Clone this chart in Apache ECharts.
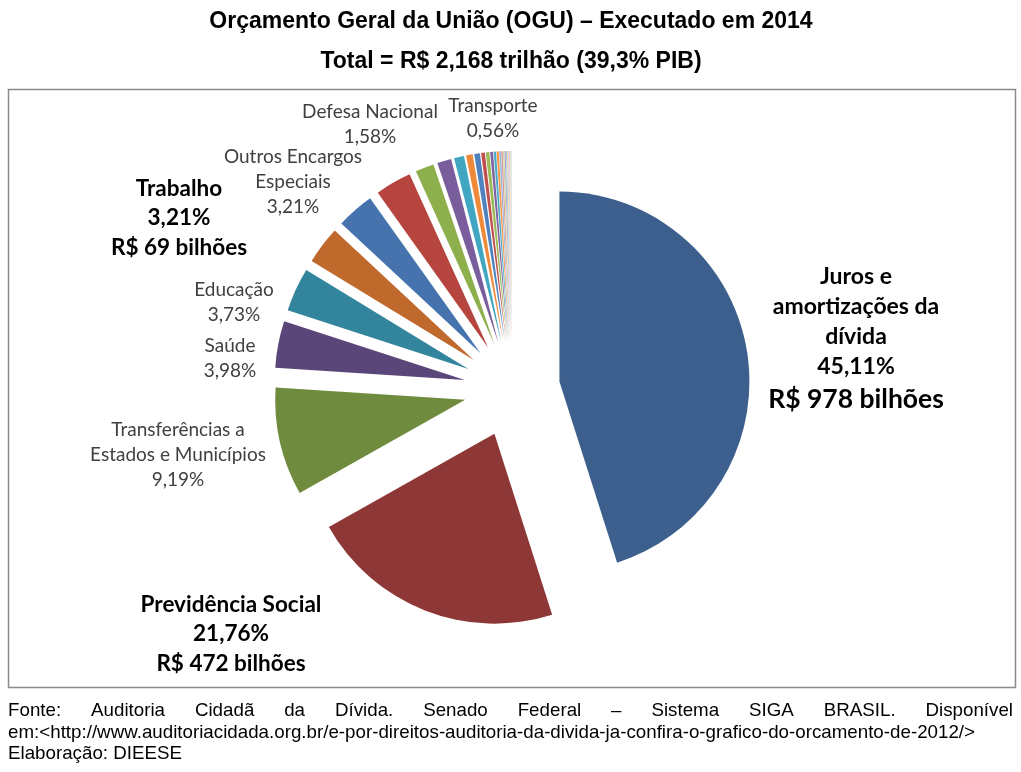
<!DOCTYPE html>
<html>
<head>
<meta charset="utf-8">
<script src="https://cdn.jsdelivr.net/npm/echarts@6/dist/echarts.min.js"></script>
<style>
html,body{margin:0;padding:0;background:#fff;}
#chart{width:1021px;height:772px;}
</style>
</head>
<body>
<div id="chart"></div>
<script>
// ---- data ----
const categories = [
  "Juros e amortizações da dívida",
  "Previdência Social",
  "Transferências a Estados e Municípios",
  "Saúde",
  "Educação",
  "Trabalho",
  "Outros Encargos Especiais",
  "Assistência Social",
  "Defesa Nacional",
  "Judiciária",
  "Administração",
  "Transporte",
  "Agricultura",
  "Segurança Pública",
  "Ciência e Tecnologia",
  "Legislativa",
  "Comércio e Serviços",
  "Essencial à Justiça",
  "Organização Agrária",
  "Gestão Ambiental",
  "Relações Exteriores",
  "Urbanismo",
  "Indústria",
  "Desporto e Lazer",
  "Cultura",
  "Direitos da Cidadania",
  "Saneamento",
  "Comunicações",
  "Energia",
  "Habitação"
];
const values = [45.11, 21.76, 9.19, 3.98, 3.73, 3.21, 3.21, 3.08, 1.58, 1.20, 0.85, 0.56, 0.48, 0.32, 0.30, 0.24, 0.20, 0.18, 0.14, 0.12, 0.10, 0.10, 0.08, 0.07, 0.06, 0.06, 0.05, 0.04, 0.03, 0.02];
const labeledCategories = ["Juros e amortizações da dívida","Previdência Social","Transferências a Estados e Municípios","Saúde","Educação","Trabalho","Outros Encargos Especiais","Defesa Nacional","Transporte"];
const bilhoes = {"Juros e amortizações da dívida": 978, "Previdência Social": 472, "Trabalho": 69};
const titleLines = ["Orçamento Geral da União (OGU) – Executado em 2014", "Total = R$ 2,168 trilhão (39,3% PIB)"];
const footerLines = [
  "Fonte: Auditoria Cidadã da Dívida. Senado Federal – Sistema SIGA BRASIL. Disponível",
  "em:<http://www.auditoriacidada.org.br/e-por-direitos-auditoria-da-divida-ja-confira-o-grafico-do-orcamento-de-2012/>",
  "Elaboração: DIEESE"
];

// ---- style / layout ----
const palette = [
  "#3C5F8D","#8D3836","#6F8B3D","#5B4679","#32859C","#BF692D",
  "#4673AD","#B6443F","#8DAF4C","#7A5D9C","#40A6C1","#EE8A3A",
  "#4F81BD","#C0504D","#9BBB59","#8064A2","#4BACC6","#F79646",
  "#95B3D7","#D99694","#C3D69B","#B3A2C7","#92CDDC","#FAC090",
  "#B9CDE5","#E6B9B8","#D7E4BD","#CCC1DA","#B7DEE8","#FCD5B5"
];
const lineBreaks = {
  "Juros e amortizações da dívida": ["Juros e", "amortizações da", "dívida"],
  "Transferências a Estados e Municípios": ["Transferências a", "Estados e Municípios"],
  "Outros Encargos Especiais": ["Outros Encargos", "Especiais"]
};
const labelPos = {
  "Juros e amortizações da dívida": {x: 856, y: 339, kind: "juros"},
  "Previdência Social": {x: 231, y: 634, kind: "bold"},
  "Trabalho": {x: 179, y: 218, kind: "bold"},
  "Transferências a Estados e Municípios": {x: 178, y: 455, kind: "small"},
  "Saúde": {x: 230, y: 358, kind: "small"},
  "Educação": {x: 234, y: 302, kind: "small"},
  "Outros Encargos Especiais": {x: 293, y: 182, kind: "small"},
  "Defesa Nacional": {x: 370, y: 124, kind: "small"},
  "Transporte": {x: 493, y: 118, kind: "small"}
};
const SEL_OFFSET = 48;

function pct(v) { return v.toFixed(2).replace('.', ',') + '%'; }

const totalValue = values.reduce((a, b) => a + b, 0);
const cumBefore = values.map((v, i) => values.slice(0, i).reduce((a, b) => a + b, 0));

const data = categories.map((c, i) => ({
  name: c,
  value: values[i],
  selected: true,
  itemStyle: {color: palette[i % palette.length]},
  label: {show: labeledCategories.indexOf(c) >= 0}
}));

const chart = echarts.init(document.getElementById('chart'), null, {renderer: 'canvas'});

// footer
const FOOT_FONT = '19px "Liberation Sans", Arial';
const cv = document.createElement('canvas').getContext('2d');
cv.font = FOOT_FONT;
const footScale = 967 / cv.measureText(footerLines[1]).width;
const graphics = [];
graphics.push({
  type: 'rect', shape: {x: 8.5, y: 89.5, width: 1007, height: 598},
  style: {fill: 'none', stroke: '#8a8a8a', lineWidth: 1.5}, silent: true
});
titleLines.forEach((t, i) => {
  graphics.push({type: 'text', style: {text: t, x: 511, y: 22 + i * 40, align: 'center', verticalAlign: 'middle',
    font: 'bold 23px "Liberation Sans", Arial', fill: '#000'}});
});
// line 1 justified
(function () {
  const words = footerLines[0].split(' ');
  const widths = words.map(w => cv.measureText(w).width * footScale);
  const total = widths.reduce((a, b) => a + b, 0);
  const left = 8, right = 1013;
  const gap = (right - left - total) / (words.length - 1);
  let x = left;
  words.forEach((w, i) => {
    graphics.push({type: 'text', x: x, y: 711, scaleX: footScale,
      style: {text: w, x: 0, y: 0, align: 'left', verticalAlign: 'middle', font: FOOT_FONT, fill: '#000'}});
    x += widths[i] + gap;
  });
})();
[1, 2].forEach(k => {
  graphics.push({type: 'text', x: 8, y: k === 1 ? 733 : 754, scaleX: footScale,
    style: {text: footerLines[k], x: 0, y: 0, align: 'left', verticalAlign: 'middle', font: FOOT_FONT, fill: '#000'}});
});

const FONT = 'Lato, "Open Sans", sans-serif';

chart.setOption({
  animation: false,
  backgroundColor: '#ffffff',
  graphic: graphics,
  series: [{
    type: 'pie',
    center: [512, 389],
    radius: [0, 190],
    startAngle: 90,
    clockwise: true,
    selectedMode: 'multiple',
    selectedOffset: SEL_OFFSET,
    avoidLabelOverlap: false,
    emphasis: {disabled: true},
    label: {
      position: 'outside',
      formatter: function (p) {
        const pos = labelPos[p.name];
        const kind = pos ? pos.kind : 'small';
        const lines = lineBreaks[p.name] || [p.name];
        const out = [];
        if (kind === 'juros') {
          lines.forEach(l => out.push('{j|' + l + '}'));
          out.push('{j|' + pct(p.value) + '}');
          out.push('{jb|R$ ' + bilhoes[p.name] + ' bilhões}');
        } else if (kind === 'bold') {
          lines.forEach(l => out.push('{b|' + l + '}'));
          out.push('{b|' + pct(p.value) + '}');
          out.push('{b|R$ ' + bilhoes[p.name] + ' bilhões}');
        } else {
          lines.forEach(l => out.push('{s|' + l + '}'));
          out.push('{s|' + pct(p.value) + '}');
        }
        return out.join('\n');
      },
      rich: {
        j: {fontFamily: FONT, fontSize: 23, fontWeight: 'bold', color: '#000', lineHeight: 30, align: 'center'},
        jb: {fontFamily: FONT, fontSize: 26.5, fontWeight: 'bold', color: '#000', lineHeight: 36, align: 'center'},
        b: {fontFamily: FONT, fontSize: 22.5, fontWeight: 'bold', color: '#000', lineHeight: 29.5, align: 'center'},
        s: {fontFamily: FONT, fontSize: 19, color: '#404040', lineHeight: 25, align: 'center'}
      }
    },
    labelLine: {show: false},
    labelLayout: function (params) {
      const i = params.dataIndex;
      const pos = labelPos[categories[i]];
      if (!pos) return {};
      const r = params.labelRect;
      const theta = (cumBefore[i] + values[i] / 2) / totalValue * 2 * Math.PI;
      const offX = SEL_OFFSET * Math.sin(theta);
      const offY = -SEL_OFFSET * Math.cos(theta);
      return {dx: pos.x - (r.x + r.width / 2) - offX, dy: pos.y - (r.y + r.height / 2) - offY, hideOverlap: false};
    },
    data: data
  }]
});
</script>
</body>
</html>
